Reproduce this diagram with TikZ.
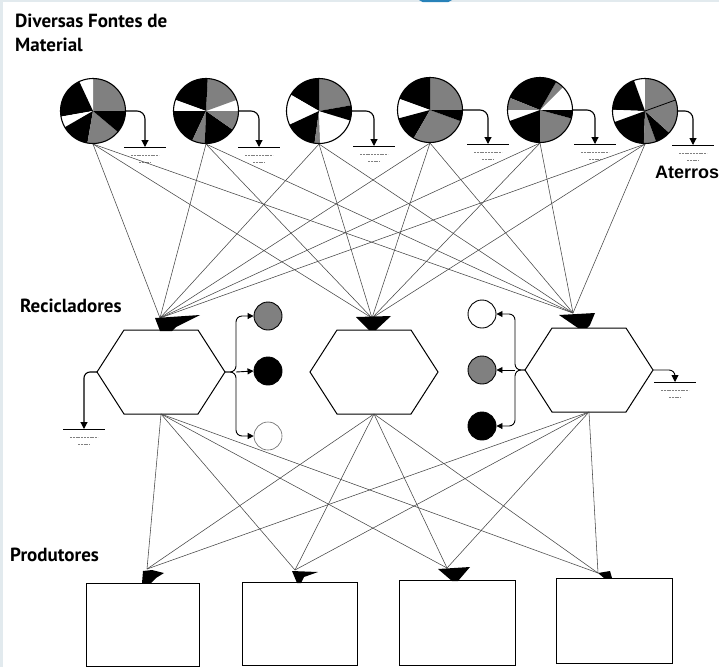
\documentclass[tikz,border=0pt]{standalone}
\usepackage{fontspec}
\usetikzlibrary{arrows.meta}
\newfontfamily\lblfont{PT Sans}
\newfontfamily\arialfont{Liberation Sans}
\definecolor{stip}{RGB}{128,128,128}
\definecolor{edge}{RGB}{226,234,238}
\definecolor{tabblue}{RGB}{40,130,185}
\definecolor{linkgray}{RGB}{70,70,70}

% pie slices: #1 centre, #2 list of start/end/colour (angles counter-clockwise)
\newcommand\piefill[2]{%
  \begin{scope}[shift={(#1)}, yscale=-1]
    \foreach \a/\b/\c in {#2}
      {\fill[\c] (0,0) -- (\a:32.5) arc[start angle=\a, end angle=\b, radius=32.5] -- cycle;}
  \end{scope}}

% landfill mark: a heavy line with two shorter faint lines beneath
\newcommand\groundmark[1]{%
  \begin{scope}[shift={(#1)}]
    \draw[line width=0.9pt] (-21,0) -- (21,0);
    \draw[black!50, line width=0.7pt, dash pattern=on 2pt off 0.8pt] (-14,8) -- (14,8);
    \draw[black!50, line width=0.7pt, dash pattern=on 2pt off 0.8pt] (-6,15) -- (6,15);
  \end{scope}}

% recycler hexagon around a centre, with named vertices
\newcommand\hexagon[2]{%
  \begin{scope}[shift={(#2)}]
    \coordinate (#1-w) at (-64,0);
    \coordinate (#1-e) at (64,0);
    \coordinate (#1-n) at (0,-42);
    \coordinate (#1-s) at (0,42);
    \draw[hexline] (-64,0) -- (-37,-42) -- (37,-42) -- (64,0) -- (37,42) -- (-37,42) -- cycle;
  \end{scope}}

\tikzset{
  link/.style={draw=linkgray, line width=0.55pt},
  heavy/.style={draw=black, line width=1.1pt},
  hexline/.style={draw=black, line width=1pt, line join=miter},
  tip/.style={-{Triangle[length=7pt,width=7pt]}},
  smalltip/.style={-{Triangle[length=6pt,width=6pt]}},
  source/.style={circle, draw=black, line width=1.1pt, minimum size=65pt, inner sep=0pt},
  dot/.style={circle, draw=black, line width=0.9pt, minimum size=28pt, inner sep=0pt},
  prodbox/.style={draw=black, line width=1pt, anchor=north west, inner sep=0pt},
  head/.style={fill=black},
  lbl/.style={font=\lblfont\bfseries\fontsize{19}{23}\selectfont, anchor=base west, inner sep=0pt},
}

\begin{document}
\begin{tikzpicture}[x=1pt,y=-1pt]
\useasboundingbox (0,0) rectangle (719,667);
\fill[white] (0,0) rectangle (719,667);
\fill[edge] (0,0) rectangle (3,667);
\fill[edge] (0,0) rectangle (719,2);
\fill[tabblue] (419,0) -- (452,0) -- (448,2.2) -- (423,2.2) -- cycle;

% ---------- titles ----------
\node[lbl] (ttl1) at (15,27) {Diversas Fontes de};
\node[lbl] (ttl2) at (15,51) {Material};
\node[lbl] (trec) at (20,312) {Recicladores};
\node[lbl] (tpro) at (10,561) {Produtores};
\node[font=\arialfont\bfseries\fontsize{18}{22}\selectfont, anchor=base west, inner sep=0pt] (tate) at (655,178) {Aterros};

% ---------- material sources ----------
\piefill{93,111}{0/90/stip, 90/115/white, 115/190/black, 190/210/white, 210/260/black, 260/320/stip, 320/360/black}
\piefill{206,111}{0/20/white, 20/87/stip, 87/160/black, 160/180/white, 180/245/black, 245/268/stip, 268/325/black, 325/360/stip}
\piefill{319,111}{10/90/stip, 90/150/black, 150/205/white, 205/262/black, 262/272/stip, 272/343/white, 343/370/black}
\piefill{430,110}{0/90/stip, 90/160/black, 160/195/white, 195/240/black, 240/340/stip, 340/360/black}
\piefill{540,110}{0/45/white, 45/60/stip, 60/158/black, 158/180/stip, 180/200/white, 200/270/black, 270/345/stip, 345/360/black}
\piefill{645,111}{90/110/white, 110/178/black, 178/200/white, 200/268/black, 268/290/stip, 290/318/black, 318/450/stip}
\draw[line width=0.8pt] (645,111) -- +(30.5,-11);

\node[source] (s1) at (93,111) {};
\node[source] (s2) at (206,111) {};
\node[source] (s3) at (319,111) {};
\node[source] (s4) at (430,110) {};
\node[source] (s5) at (540,110) {};
\node[source] (s6) at (645,111) {};

% ---------- landfill outlets of the sources ----------
\coordinate (g1) at (145,147);
\coordinate (g2) at (259,147);
\coordinate (g3) at (374,146);
\coordinate (g4) at (488,144);
\coordinate (g5) at (595,144);
\coordinate (g6) at (693,145);
\foreach \i in {1,...,6}{
  \draw[heavy, tip, rounded corners=8pt] (s\i.east) -| (g\i);
  \groundmark{g\i}
}

% ---------- recyclers ----------
\hexagon{h1}{161,372}
\hexagon{h2}{374,372}
\hexagon{h3}{589,370}

\coordinate (r1) at (160,318);
\coordinate (r2) at (372,318);
\coordinate (r3) at (573,313);

\foreach \i in {1,...,6}
  \foreach \j in {1,2,3}
    {\draw[link] (s\i.south) -- (r\j);}

\fill[head] (155,318) -- (200,315) -- (176,327) -- (172,331) -- (160,331) -- cycle;
\fill[head] (356,317) -- (391,316) -- (376,330) -- (369,330) -- cycle;
\fill[head] (559,315) -- (595,313) -- (590,325) -- (587,328) -- (578,328) -- cycle;

% ---------- sorted outputs ----------
\node[dot, fill=stip] (c1) at (268,316) {};
\node[dot, fill=black] (c2) at (268,371) {};
\node[dot, draw=black!60, line width=0.6pt, fill=white] (c3) at (268,436) {};
\coordinate (b1) at (236,372);
\draw[heavy, line width=0.9pt, smalltip, rounded corners=6pt] (h1-e) -- (b1) |- (c1.west);
\draw[heavy, line width=0.9pt, smalltip] (b1) -- (c2.west);
\draw[heavy, line width=0.9pt, smalltip, rounded corners=6pt] (h1-e) -- (b1) |- (c3.west);

\node[dot, fill=white] (d1) at (482,314) {};
\node[dot, fill=stip] (d2) at (482,370) {};
\node[dot, fill=black] (d3) at (482,426) {};
\coordinate (b3) at (515,370);
\draw[heavy, line width=0.9pt, smalltip, rounded corners=6pt] (h3-w) -- (b3) |- (d1.east);
\draw[heavy, line width=0.9pt, smalltip] (b3) -- (d2.east);
\draw[heavy, line width=0.9pt, smalltip, rounded corners=6pt] (h3-w) -- (b3) |- (d3.east);

% ---------- recycler rejects to landfill ----------
\coordinate (k1) at (84,429);
\coordinate (k3) at (675,382);
\draw[heavy, tip, rounded corners=6pt] (h1-w) -| (k1);
\draw[heavy, line width=0.9pt, tip, rounded corners=6pt] (h3-e) -| (k3);
\groundmark{k1}
\groundmark{k3}

% ---------- producers ----------
\node[prodbox, minimum width=113pt, minimum height=83pt] (p1) at (86,583) {};
\node[prodbox, minimum width=115pt, minimum height=83pt] (p2) at (242,582) {};
\node[prodbox, minimum width=116pt, minimum height=85pt] (p3) at (399,580) {};
\node[prodbox, minimum width=116pt, minimum height=85pt] (p4) at (556,578) {};

\coordinate (q1) at (147,569);
\coordinate (q2) at (295,570);
\coordinate (q3) at (447,568);
\coordinate (q4) at (598,573);

\foreach \j in {1,2,3}
  \foreach \k in {1,...,4}
    {\draw[link] (h\j-s) -- (q\k);}

\fill[head] (143,571) -- (152,570) -- (164,573) -- (156,578) -- (151,583) -- (142,583) -- cycle;
\fill[head] (292,571) -- (318,572) -- (304,577) -- (301,583) -- (297,583) -- cycle;
\fill[head] (438,569) -- (470,567) -- (458,581) -- (452,581) -- cycle;
\fill[head] (598,573) -- (610,571) -- (612,578) -- (604,578) -- cycle;
\end{tikzpicture}
\end{document}
